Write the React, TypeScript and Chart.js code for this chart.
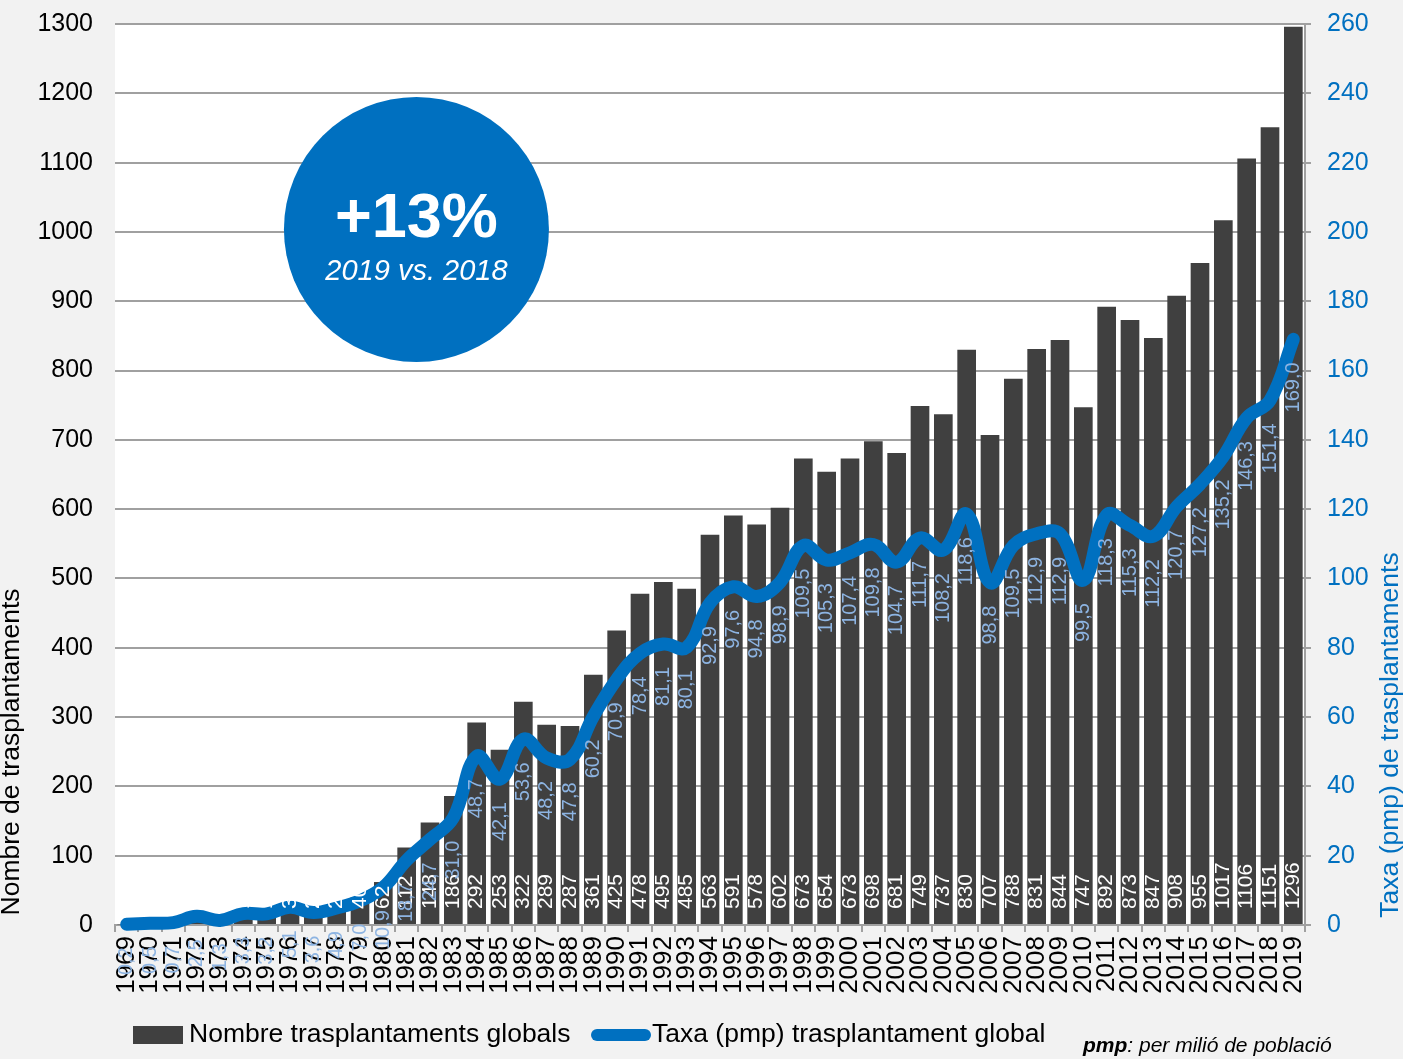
import React, { useEffect, useRef } from 'react';
import { Chart, registerables } from 'chart.js';

Chart.register(...registerables);

const YEARS = [
  '1969', '1970', '1971', '1972', '1973', '1974', '1975', '1976', '1977', '1978',
  '1979', '1980', '1981', '1982', '1983', '1984', '1985', '1986', '1987', '1988',
  '1989', '1990', '1991', '1992', '1993', '1994', '1995', '1996', '1997', '1998',
  '1999', '2000', '2001', '2002', '2003', '2004', '2005', '2006', '2007', '2008',
  '2009', '2010', '2011', '2012', '2013', '2014', '2015', '2016', '2017', '2018', '2019',
];

const TRANSPLANTS = [
  1, 3, 4, 14, 7, 19, 18, 30, 21, 28, 40, 62,
  112, 148, 186, 292, 253, 322, 289, 287, 361, 425,
  478, 495, 485, 563, 591, 578, 602, 673, 654, 673,
  698, 681, 749, 737, 830, 707, 788, 831, 844, 747,
  892, 873, 847, 908, 955, 1017, 1106, 1151, 1296,
];

const RATE_PMP = [
  0.2, 0.5, 0.7, 2.5, 1.3, 3.3, 3.2, 5.1, 3.6, 4.9, 7.0, 10.9,
  18.7, 24.7, 31.0, 48.7, 42.1, 53.6, 48.2, 47.8, 60.2, 70.9,
  78.4, 81.1, 80.1, 92.9, 97.6, 94.8, 98.9, 109.5, 105.3, 107.4,
  109.8, 104.7, 111.7, 108.2, 118.6, 98.8, 109.5, 112.9, 112.9, 99.5,
  118.3, 115.3, 112.2, 120.7, 127.2, 135.2, 146.3, 151.4, 169.0,
];

const LEFT_MAX = 1300;
const LEFT_STEP = 100;
const RIGHT_MAX = 260;
const RIGHT_STEP = 20;

const BAR_LABEL = 'Nombre trasplantaments globals';
const LINE_LABEL = 'Taxa (pmp) trasplantament global';
const LEFT_TITLE = 'Nombre de trasplantaments';
const RIGHT_TITLE = 'Taxa (pmp) de trasplantaments';
const BADGE_MAIN = '+13%';
const BADGE_SUB = '2019 vs. 2018';

const FONT = '"Liberation Sans", Arial, sans-serif';
const BAR_COLOR = '#404040';
const LINE_COLOR = '#0070c0';
const RATE_LABEL_COLOR = '#8db4e2';
const GRID = '#a0a0a0';

const fmt = (v: number) => v.toFixed(1).replace('.', ',');

export default function App() {
  const ref = useRef<HTMLCanvasElement | null>(null);

  useEffect(() => {
    if (!ref.current) return;

    const decor = {
      id: 'decor',
      beforeDraw(chart: any) {
        const { ctx, chartArea: a, width, height } = chart;
        ctx.save();
        ctx.fillStyle = '#f2f2f2';
        ctx.fillRect(0, 0, width, height);
        ctx.fillStyle = '#ffffff';
        ctx.fillRect(a.left, a.top, a.right - a.left, a.bottom - a.top);
        ctx.restore();
      },
      beforeDatasetsDraw(chart: any) {
        const { ctx, chartArea: a } = chart;
        const cx = a.left + (a.right - a.left) * 0.2533;
        const cy = a.top + (a.bottom - a.top) * 0.228;
        ctx.save();
        const ys = chart.scales.y1;
        ctx.strokeStyle = GRID;
        ctx.lineWidth = 2;
        ys.ticks.forEach((t: any) => {
          const py = Math.round(ys.getPixelForValue(t.value));
          ctx.beginPath();
          ctx.moveTo(a.right, py);
          ctx.lineTo(a.right + 6, py);
          ctx.stroke();
        });
        ctx.beginPath();
        ctx.arc(cx, cy, 132.5, 0, Math.PI * 2);
        ctx.fillStyle = LINE_COLOR;
        ctx.fill();
        ctx.fillStyle = '#ffffff';
        ctx.textAlign = 'center';
        ctx.textBaseline = 'alphabetic';
        ctx.font = `bold 63px ${FONT}`;
        ctx.fillText(BADGE_MAIN, cx, cy + 7.5);
        ctx.font = `italic 29px ${FONT}`;
        ctx.fillText(BADGE_SUB, cx, cy + 50.5);
        ctx.restore();
      },
      afterDatasetsDraw(chart: any) {
        const { ctx } = chart;
        const barMeta = chart.getDatasetMeta(1);
        const lineMeta = chart.getDatasetMeta(0);
        ctx.save();
        ctx.font = `21px ${FONT}`;
        ctx.fillStyle = '#ffffff';
        ctx.textBaseline = 'middle';
        barMeta.data.forEach((el: any, i: number) => {
          ctx.save();
          ctx.translate(el.x, el.base - 15);
          ctx.rotate(-Math.PI / 2);
          ctx.textAlign = 'left';
          ctx.fillText(String(TRANSPLANTS[i]), 0, 0);
          ctx.restore();
        });
        ctx.font = `20px ${FONT}`;
        ctx.fillStyle = RATE_LABEL_COLOR;
        lineMeta.data.forEach((el: any, i: number) => {
          ctx.save();
          ctx.translate(el.x, el.y + 23);
          ctx.rotate(-Math.PI / 2);
          ctx.textAlign = 'right';
          ctx.fillText(fmt(RATE_PMP[i]), 0, 0);
          ctx.restore();
        });
        ctx.restore();
      },
      afterDraw(chart: any) {
        const { ctx } = chart;
        ctx.save();
        ctx.font = `26.5px ${FONT}`;
        ctx.textBaseline = 'middle';
        ctx.textAlign = 'center';
        ctx.save();
        ctx.translate(12, 752);
        ctx.rotate(-Math.PI / 2);
        ctx.fillStyle = '#000000';
        ctx.fillText(LEFT_TITLE, 0, 0);
        ctx.restore();
        ctx.save();
        ctx.translate(1391, 735);
        ctx.rotate(-Math.PI / 2);
        ctx.fillStyle = LINE_COLOR;
        ctx.fillText(RIGHT_TITLE, 0, 0);
        ctx.restore();

        const ly = 1035;
        ctx.fillStyle = BAR_COLOR;
        ctx.fillRect(133, ly - 9, 50, 18);
        ctx.fillStyle = '#000000';
        ctx.textAlign = 'left';
        ctx.fillText(BAR_LABEL, 189, ly);
        ctx.beginPath();
        ctx.strokeStyle = LINE_COLOR;
        ctx.lineWidth = 12;
        ctx.lineCap = 'round';
        ctx.moveTo(597, ly);
        ctx.lineTo(645, ly);
        ctx.stroke();
        ctx.fillText(LINE_LABEL, 652, ly);

        ctx.textBaseline = 'alphabetic';
        ctx.font = `italic bold 21px ${FONT}`;
        const px = 1083;
        ctx.fillText('pmp', px, 1052);
        const w = ctx.measureText('pmp').width;
        ctx.font = `italic 21px ${FONT}`;
        ctx.fillText(': per milió de població', px + w, 1052);
        ctx.restore();
      },
    };

    const chart = new Chart(ref.current, {
      type: 'bar',
      data: {
        labels: YEARS,
        datasets: [
          {
            type: 'line',
            label: LINE_LABEL,
            data: RATE_PMP,
            yAxisID: 'y1',
            borderColor: LINE_COLOR,
            backgroundColor: LINE_COLOR,
            borderWidth: 13,
            tension: 0.4,
            pointRadius: 0,
            borderCapStyle: 'round',
            borderJoinStyle: 'round',
            clip: false,
            order: 0,
          } as any,
          {
            type: 'bar',
            label: BAR_LABEL,
            data: TRANSPLANTS,
            yAxisID: 'y',
            backgroundColor: BAR_COLOR,
            barPercentage: 0.8,
            categoryPercentage: 1,
            order: 1,
          } as any,
        ],
      },
      options: {
        responsive: false,
        devicePixelRatio: 1,
        animation: false,
        layout: { padding: { top: 24, left: 0, right: 0, bottom: 0 } },
        plugins: {
          legend: { display: false },
          tooltip: { enabled: false },
        },
        scales: {
          x: {
            offset: true,
            grid: {
              display: true,
              offset: true,
              drawOnChartArea: false,
              tickLength: 7,
              color: GRID,
              lineWidth: 2,
            },
            border: { display: true, color: GRID, width: 2 },
            ticks: {
              autoSkip: false,
              minRotation: 90,
              maxRotation: 90,
              color: '#000000',
              font: { family: FONT, size: 26 },
              padding: 4,
            },
            afterFit(s: any) {
              s.height = 134;
            },
          },
          y: {
            position: 'left',
            min: 0,
            max: LEFT_MAX,
            ticks: {
              stepSize: LEFT_STEP,
              color: '#000000',
              font: { family: FONT, size: 25 },
              padding: 0,
              callback: (v: any) => String(v),
            },
            grid: { color: GRID, lineWidth: 2, tickLength: 22, tickColor: 'rgba(0,0,0,0)' },
            border: { display: false },
            afterFit(s: any) {
              s.width = 115;
            },
          },
          y1: {
            position: 'right',
            min: 0,
            max: RIGHT_MAX,
            ticks: {
              stepSize: RIGHT_STEP,
              color: LINE_COLOR,
              font: { family: FONT, size: 25 },
              padding: 0,
              callback: (v: any) => String(v),
            },
            grid: { drawOnChartArea: false, tickLength: 22, tickColor: 'rgba(0,0,0,0)' },
            border: { display: true, color: GRID, width: 2 },
            afterFit(s: any) {
              s.width = 98;
            },
          },
        },
      } as any,
      plugins: [decor],
    });

    return () => chart.destroy();
  }, []);

  return (
    <div
      style={{
        position: 'fixed',
        left: 0,
        top: 0,
        width: 1403,
        height: 1059,
        background: '#f2f2f2',
      }}
    >
      <canvas ref={ref} width={1403} height={1059} style={{ display: 'block' }} />
    </div>
  );
}
